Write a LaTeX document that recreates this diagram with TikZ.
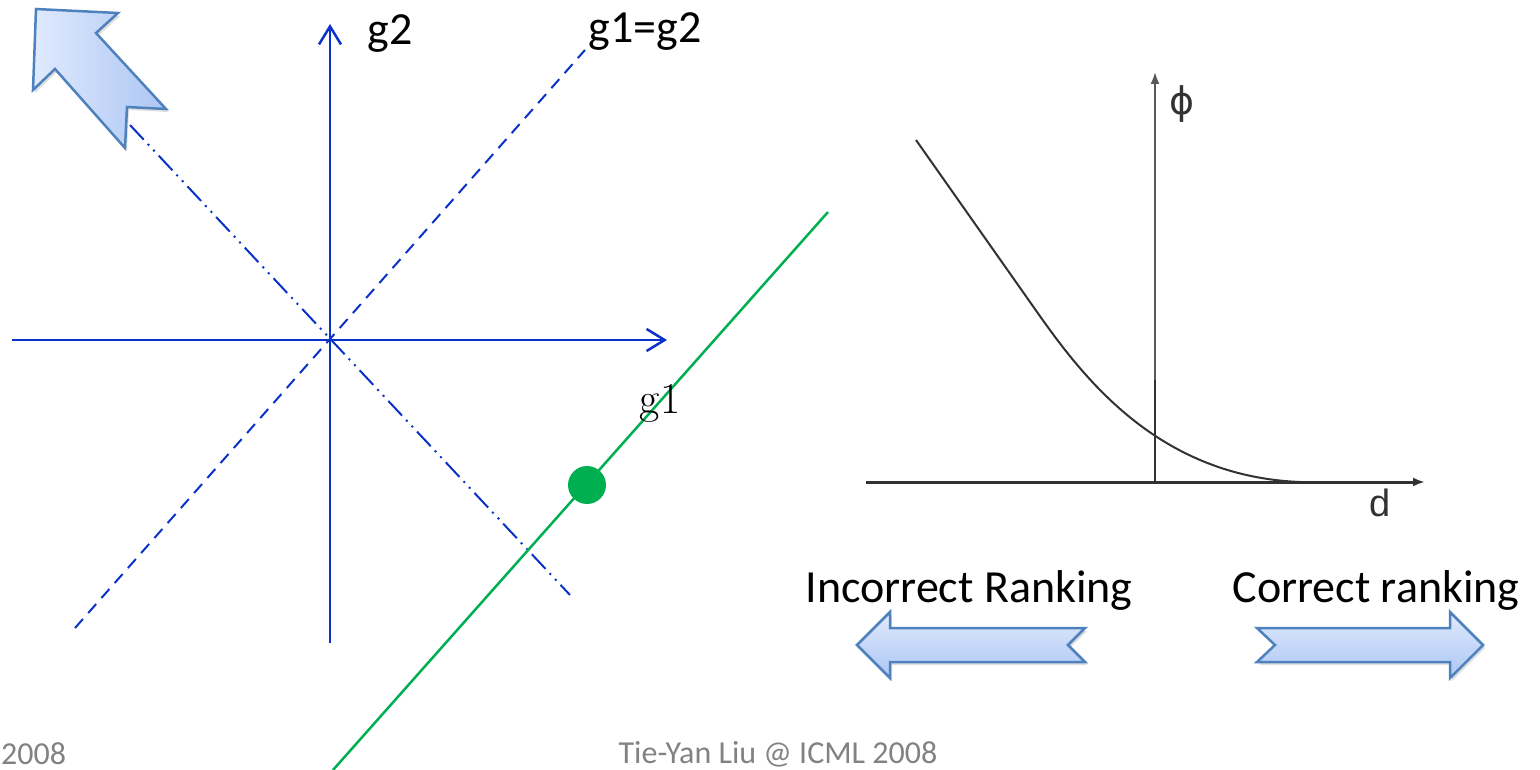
\documentclass[tikz,border=0pt]{standalone}
\usepackage{fontspec}
\newfontfamily\calfont{Carlito}
\newfontfamily\helvfont{Liberation Sans}
\newfontfamily\symfont{DejaVu Sans}
\usetikzlibrary{arrows.meta,shadows}
\definecolor{axblue}{RGB}{10,50,200}
\definecolor{lgreen}{RGB}{0,176,80}
\definecolor{arrline}{RGB}{79,129,189}
\definecolor{arrlight}{RGB}{224,234,253}
\definecolor{arrdark}{RGB}{172,198,244}
\definecolor{footgray}{RGB}{130,130,130}
\definecolor{plotgray}{RGB}{50,50,50}

\begin{document}
\begin{tikzpicture}[x=1pt, y=-1pt,
  ax/.style={draw=axblue, line width=2.5pt, -{Straight Barb[length=18pt,width=22pt]}},
  lbl/.style={font=\calfont\fontsize{46}{50}\selectfont, inner sep=0pt},
  blk/.style={draw=arrline, line width=2.5pt, line join=miter,
              drop shadow={opacity=0.25, shadow xshift=2pt, shadow yshift=-3pt}},
  blkh/.style={blk, top color=arrlight, bottom color=arrdark},
  blkd/.style={blk, left color=arrlight, right color=arrdark},
  pl/.style={draw=plotgray, line width=2pt}]
\useasboundingbox (0,0) rectangle (1540,770);
\coordinate (o) at (330,340);
\coordinate (xl) at (12,340); \coordinate (xr) at (667,340);
\coordinate (yb) at (330,643); \coordinate (yt) at (330,24);
\coordinate (d1) at (75,628); \coordinate (d2) at (585,50);
\coordinate (n1) at (130,125); \coordinate (n2) at (570,595);
\coordinate (gb) at (333,770); \coordinate (gt) at (828,212);
\draw[axblue, line width=2pt, dash pattern=on 12pt off 8pt] (d1) -- (d2);
\draw[axblue, line width=2pt, dash pattern=on 20pt off 6pt on 2pt off 6pt on 2pt off 6pt] (n1) -- (n2);
\draw[ax] (xl) -- (xr);
\draw[ax] (yb) -- (yt);
\draw[lgreen, line width=2.5pt] (gb) -- (gt);
\node[circle, fill=lgreen, minimum size=38pt, inner sep=0pt] (pt) at (587,485) {};
\node[lbl] (g2) at (390,34) {g2};
\node[lbl] (g12) at (645,32) {g1=g2};
\node[font=\fontsize{44}{48}\selectfont, inner sep=0pt] (g1) at (660,403) {g1};
\draw[blkd] (36,9) -- (118,13) -- (96,33) -- (166,109) -- (127,107) -- (125,148)
  -- (55,69) -- (33,90) -- cycle;
\coordinate (po) at (1155,482);
\coordinate (pt1) at (1155,72); \coordinate (pm) at (1155,380);
\coordinate (hl) at (866,482); \coordinate (hr) at (1425,482);
\draw[draw=gray!70!black, line width=1.8pt, -{Latex[length=12pt,width=9pt]}] (po) -- (pt1);
\draw[pl, line width=2.5pt] (po) -- (pm);
\draw[pl, line width=3pt, -{Latex[length=12pt,width=9pt]}] (hl) -- (hr);
\draw[pl] (916,140) -- (1030,302) .. controls (1075,366) and (1150,476) .. (1300,482) -- (1340,482);
\node[font=\symfont\fontsize{38}{40}\selectfont, text=plotgray, inner sep=0pt] (phi) at (1182,104) {ϕ};
\node[font=\helvfont\fontsize{38}{40}\selectfont, text=plotgray, inner sep=0pt] (dl) at (1380,503) {d};
\node[lbl] (inc) at (969,590) {Incorrect Ranking};
\node[lbl] (cor) at (1376,590) {Correct ranking};
\draw[blkh] (857,645) -- (890,612) -- (890,628) -- (1085,628) -- (1068,645) -- (1085,662)
  -- (890,662) -- (890,678) -- cycle;
\draw[blkh] (1483,645) -- (1450,612) -- (1450,628) -- (1257,628) -- (1275,645) -- (1257,662)
  -- (1450,662) -- (1450,678) -- cycle;
\node[font=\calfont\fontsize{32}{34}\selectfont, text=footgray, inner sep=0pt] (foot) at (778,754) {Tie-Yan Liu @ ICML 2008};
\node[font=\calfont\fontsize{32}{34}\selectfont, text=footgray, inner sep=0pt, anchor=west] (date) at (1,754) {2008};
\end{tikzpicture}
\end{document}
